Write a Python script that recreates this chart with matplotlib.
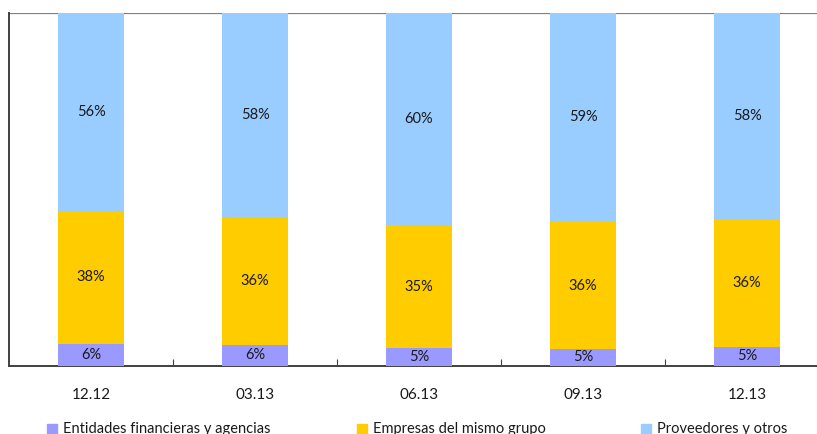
import numpy as np
import matplotlib
matplotlib.use("Agg")
import matplotlib.pyplot as plt
from matplotlib.patches import Rectangle

plt.rcParams["font.family"] = ["Lato", "DejaVu Sans"]

categories = ["12.12", "03.13", "06.13", "09.13", "12.13"]
entidades = [6.1, 5.9, 5.1, 4.7, 5.3]
empresas = [37.8, 36.0, 34.6, 36.0, 36.3]
proveedores = [56.1, 58.1, 60.4, 59.4, 58.3]

series_names = ["Entidades financieras y agencias", "Empresas del mismo grupo", "Proveedores y otros"]
colors = ["#9999ff", "#ffcc00", "#99ccff"]

W, H = 817, 434
fig = plt.figure(figsize=(W / 100, H / 100), dpi=100)
# axes box in pixels: left 9, bottom 365.7, top 12.7, right runs off the figure
ax = fig.add_axes([9 / W, 1 - 365.7 / H, (W - 9) / W, (365.7 - 12.7) / H])

x = np.arange(len(categories))
width = 0.40
bottom = np.zeros(len(categories))
for vals, col in zip([entidades, empresas, proveedores], colors):
    vals = np.array(vals)
    ax.bar(x, vals, width, bottom=bottom, color=col, zorder=3)
    for xi, b, v in zip(x, bottom, vals):
        ax.text(xi, b + v / 2, f"{v:.0f}%", ha="center", va="center",
                fontsize=10.5, color="#1a1a1a", zorder=4)
    bottom += vals

ax.set_xlim(-0.5, -0.5 + (W - 9) / 164)
ax.set_ylim(0, 100)
ax.axhline(100, color="#808080", lw=1.6, zorder=1)

for s in ["top", "right"]:
    ax.spines[s].set_visible(False)
ax.spines["left"].set_color("#404040")
ax.spines["left"].set_linewidth(1.4)
ax.spines["bottom"].set_color("#404040")
ax.spines["bottom"].set_linewidth(1.4)

ax.set_yticks([])
ax.set_xticks(x)
ax.set_xticklabels(categories, fontsize=11, color="#1a1a1a")
ax.tick_params(axis="x", which="major", length=0, pad=16)
ax.set_xticks(x[:-1] + 0.5, minor=True)
ax.tick_params(axis="x", which="minor", direction="in", length=5, width=0.8, color="#404040")

# legend row along the bottom edge
leg_x = [47, 357, 641]
for lx, name, col in zip(leg_x, series_names, colors):
    fig.patches.append(Rectangle((lx / W, 1 - 434 / H), 10 / W, 10 / H,
                                 transform=fig.transFigure, color=col))
    fig.text((lx + 16) / W, 1 - 429 / H, name, fontsize=10.5, color="#1a1a1a",
             va="center", ha="left")

fig.savefig("out.png", dpi=100)
